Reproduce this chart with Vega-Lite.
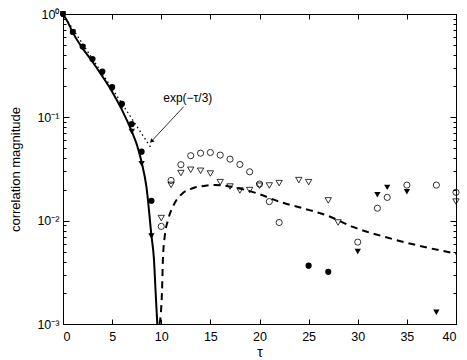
{
  "$schema": "https://vega.github.io/schema/vega-lite/v6.json",
  "width": 393,
  "height": 310,
  "autosize": {"type": "none"},
  "padding": {"left": 63, "top": 14, "right": 11, "bottom": 36},
  "background": "white",
  "config": {
    "font": "Liberation Sans",
    "view": {"stroke": "black", "strokeWidth": 1},
    "axis": {
      "grid": false,
      "domainColor": "black",
      "tickColor": "black",
      "labelColor": "black",
      "titleColor": "black",
      "labelFont": "Liberation Sans",
      "titleFont": "Liberation Sans",
      "labelFontSize": 12.5,
      "titleFontSize": 13,
      "titleFontWeight": "normal"
    }
  },
  "datasets": {
    "markers": [
      {"tau": 0, "value": 1, "series": "fc"},
      {"tau": 1, "value": 0.67, "series": "fc"},
      {"tau": 2, "value": 0.485, "series": "fc"},
      {"tau": 3, "value": 0.367, "series": "fc"},
      {"tau": 4, "value": 0.277, "series": "fc"},
      {"tau": 5, "value": 0.196, "series": "fc"},
      {"tau": 6, "value": 0.135, "series": "fc"},
      {"tau": 7, "value": 0.086, "series": "fc"},
      {"tau": 8, "value": 0.0465, "series": "fc"},
      {"tau": 9, "value": 0.0156, "series": "fc"},
      {"tau": 25, "value": 0.00367, "series": "fc"},
      {"tau": 27, "value": 0.0032, "series": "fc"},
      {"tau": 0, "value": 1, "series": "ft"},
      {"tau": 1, "value": 0.665, "series": "ft"},
      {"tau": 2, "value": 0.475, "series": "ft"},
      {"tau": 3, "value": 0.355, "series": "ft"},
      {"tau": 4, "value": 0.265, "series": "ft"},
      {"tau": 5, "value": 0.19, "series": "ft"},
      {"tau": 6, "value": 0.128, "series": "ft"},
      {"tau": 7, "value": 0.073, "series": "ft"},
      {"tau": 8, "value": 0.0356, "series": "ft"},
      {"tau": 9, "value": 0.0071, "series": "ft"},
      {"tau": 30, "value": 0.00503, "series": "ft"},
      {"tau": 32, "value": 0.0178, "series": "ft"},
      {"tau": 33, "value": 0.021, "series": "ft"},
      {"tau": 35, "value": 0.019, "series": "ft"},
      {"tau": 38, "value": 0.0013, "series": "ft"},
      {"tau": 10, "value": 0.0088, "series": "oc"},
      {"tau": 11, "value": 0.0245, "series": "oc"},
      {"tau": 12, "value": 0.0348, "series": "oc"},
      {"tau": 13, "value": 0.0425, "series": "oc"},
      {"tau": 14, "value": 0.045, "series": "oc"},
      {"tau": 15, "value": 0.0457, "series": "oc"},
      {"tau": 16, "value": 0.0431, "series": "oc"},
      {"tau": 17, "value": 0.0394, "series": "oc"},
      {"tau": 18, "value": 0.035, "series": "oc"},
      {"tau": 19, "value": 0.0297, "series": "oc"},
      {"tau": 20, "value": 0.0226, "series": "oc"},
      {"tau": 21, "value": 0.0153, "series": "oc"},
      {"tau": 22, "value": 0.0096, "series": "oc"},
      {"tau": 30, "value": 0.0062, "series": "oc"},
      {"tau": 32, "value": 0.0132, "series": "oc"},
      {"tau": 33, "value": 0.0168, "series": "oc"},
      {"tau": 35, "value": 0.0221, "series": "oc"},
      {"tau": 38, "value": 0.0221, "series": "oc"},
      {"tau": 40, "value": 0.0188, "series": "oc"},
      {"tau": 10, "value": 0.0106, "series": "ot"},
      {"tau": 11, "value": 0.0222, "series": "ot"},
      {"tau": 12, "value": 0.0289, "series": "ot"},
      {"tau": 13, "value": 0.0311, "series": "ot"},
      {"tau": 14, "value": 0.0304, "series": "ot"},
      {"tau": 15, "value": 0.0286, "series": "ot"},
      {"tau": 16, "value": 0.0236, "series": "ot"},
      {"tau": 17, "value": 0.0214, "series": "ot"},
      {"tau": 18, "value": 0.0196, "series": "ot"},
      {"tau": 19, "value": 0.0198, "series": "ot"},
      {"tau": 20, "value": 0.0218, "series": "ot"},
      {"tau": 21, "value": 0.0219, "series": "ot"},
      {"tau": 22, "value": 0.0231, "series": "ot"},
      {"tau": 24, "value": 0.0247, "series": "ot"},
      {"tau": 25, "value": 0.0236, "series": "ot"},
      {"tau": 27, "value": 0.0157, "series": "ot"},
      {"tau": 28, "value": 0.0096, "series": "ot"},
      {"tau": 40, "value": 0.0153, "series": "ot"}
    ],
    "curves": [
      {"tau": 0, "value": 1, "curve": "solid"},
      {"tau": 0.5, "value": 0.83, "curve": "solid"},
      {"tau": 1, "value": 0.66, "curve": "solid"},
      {"tau": 2, "value": 0.465, "curve": "solid"},
      {"tau": 3, "value": 0.345, "curve": "solid"},
      {"tau": 4, "value": 0.25, "curve": "solid"},
      {"tau": 5, "value": 0.177, "curve": "solid"},
      {"tau": 6, "value": 0.118, "curve": "solid"},
      {"tau": 7, "value": 0.073, "curve": "solid"},
      {"tau": 7.5, "value": 0.055, "curve": "solid"},
      {"tau": 8, "value": 0.037, "curve": "solid"},
      {"tau": 8.5, "value": 0.021, "curve": "solid"},
      {"tau": 9, "value": 0.0072, "curve": "solid"},
      {"tau": 9.26, "value": 0.0042, "curve": "solid"},
      {"tau": 9.43, "value": 0.002, "curve": "solid"},
      {"tau": 9.6, "value": 0.001, "curve": "solid"},
      {"tau": 9.83, "value": 0.001, "curve": "dashed"},
      {"tau": 10.07, "value": 0.002, "curve": "dashed"},
      {"tau": 10.17, "value": 0.0042, "curve": "dashed"},
      {"tau": 10.35, "value": 0.007, "curve": "dashed"},
      {"tau": 10.7, "value": 0.0102, "curve": "dashed"},
      {"tau": 11.37, "value": 0.0148, "curve": "dashed"},
      {"tau": 12.2, "value": 0.0185, "curve": "dashed"},
      {"tau": 13.2, "value": 0.0206, "curve": "dashed"},
      {"tau": 14.5, "value": 0.0218, "curve": "dashed"},
      {"tau": 15.5, "value": 0.0222, "curve": "dashed"},
      {"tau": 17.3, "value": 0.0211, "curve": "dashed"},
      {"tau": 19.67, "value": 0.0185, "curve": "dashed"},
      {"tau": 22, "value": 0.0153, "curve": "dashed"},
      {"tau": 24.4, "value": 0.0132, "curve": "dashed"},
      {"tau": 27, "value": 0.0111, "curve": "dashed"},
      {"tau": 29.5, "value": 0.0087, "curve": "dashed"},
      {"tau": 32.9, "value": 0.0069, "curve": "dashed"},
      {"tau": 36.3, "value": 0.0057, "curve": "dashed"},
      {"tau": 40, "value": 0.0048, "curve": "dashed"},
      {"tau": 0, "value": 1, "curve": "dotted"},
      {"tau": 9, "value": 0.05, "curve": "dotted"}
    ],
    "note": [
      {"tau": 10.2, "value": 0.155, "label": "exp(−τ/3)", "tau2": 9.05, "value2": 0.0593, "tau1": 12.28, "value1": 0.1267}
    ]
  },
  "layer": [
    {
      "data": {"name": "curves"},
      "transform": [{"filter": "datum.curve == 'dotted'"}],
      "mark": {"type": "line", "color": "black", "strokeWidth": 1.3, "strokeDash": [1.5, 3]},
      "encoding": {
        "x": {"field": "tau", "type": "quantitative", "scale": {"domain": [0, 40], "nice": false},
          "axis": {"orient": "bottom", "title": "τ", "titleFontSize": 14, "values": [0, 5, 10, 15, 20, 25, 30, 35, 40], "tickSize": -5, "labelPadding": 11, "titlePadding": 3}},
        "y": {"field": "value", "type": "quantitative", "scale": {"type": "log", "domain": [0.001, 1], "nice": false},
          "axis": {"orient": "left", "title": "correlation magnitude", "titlePadding": 14,
            "values": [0.001, 0.002, 0.003, 0.004, 0.005, 0.006, 0.007, 0.008, 0.009, 0.01, 0.02, 0.03, 0.04, 0.05, 0.06, 0.07, 0.08, 0.09, 0.1, 0.2, 0.3, 0.4, 0.5, 0.6, 0.7, 0.8, 0.9, 1],
            "labelExpr": "abs(log(datum.value)/LN10 - round(log(datum.value)/LN10)) < 0.000001 ? ('10' + (round(log(datum.value)/LN10) == 0 ? '⁰' : round(log(datum.value)/LN10) == -1 ? '⁻¹' : round(log(datum.value)/LN10) == -2 ? '⁻²' : '⁻³')) : ''",
            "tickSize": {"condition": {"test": "abs(log(datum.value)/LN10 - round(log(datum.value)/LN10)) < 0.000001", "value": -6}, "value": -3},
            "labelPadding": 10}}
      }
    },
    {
      "data": {"name": "curves"},
      "transform": [{"filter": "datum.curve == 'dotted'"}],
      "mark": {"type": "line", "opacity": 0},
      "encoding": {
        "x": {"field": "tau", "type": "quantitative", "scale": {"domain": [0, 40], "nice": false},
          "axis": {"orient": "top", "title": null, "labels": false, "values": [0, 5, 10, 15, 20, 25, 30, 35, 40], "tickSize": -5}},
        "y": {"field": "value", "type": "quantitative", "scale": {"type": "log", "domain": [0.001, 1], "nice": false},
          "axis": {"orient": "right", "title": null, "labels": false,
            "values": [0.001, 0.002, 0.003, 0.004, 0.005, 0.006, 0.007, 0.008, 0.009, 0.01, 0.02, 0.03, 0.04, 0.05, 0.06, 0.07, 0.08, 0.09, 0.1, 0.2, 0.3, 0.4, 0.5, 0.6, 0.7, 0.8, 0.9, 1],
            "tickSize": {"condition": {"test": "abs(log(datum.value)/LN10 - round(log(datum.value)/LN10)) < 0.000001", "value": -6}, "value": -3}}}
      }
    },
    {
      "data": {"name": "curves"},
      "transform": [{"filter": "datum.curve == 'solid'"}],
      "mark": {"type": "line", "color": "black", "strokeWidth": 2, "interpolate": "monotone", "clip": true},
      "encoding": {
        "x": {"field": "tau", "type": "quantitative", "scale": {"domain": [0, 40], "nice": false}, "axis": null},
        "y": {"field": "value", "type": "quantitative", "scale": {"type": "log", "domain": [0.001, 1], "nice": false}, "axis": null}
      }
    },
    {
      "data": {"name": "curves"},
      "transform": [{"filter": "datum.curve == 'dashed'"}],
      "mark": {"type": "line", "color": "black", "strokeWidth": 2, "strokeDash": [7, 5], "interpolate": "monotone", "clip": true},
      "encoding": {
        "x": {"field": "tau", "type": "quantitative", "scale": {"domain": [0, 40], "nice": false}, "axis": null},
        "y": {"field": "value", "type": "quantitative", "scale": {"type": "log", "domain": [0.001, 1], "nice": false}, "axis": null}
      }
    },
    {
      "data": {"name": "markers"},
      "transform": [{"filter": "datum.series == 'oc'"}],
      "mark": {"type": "point", "shape": "circle", "filled": false, "color": "black", "opacity": 1, "strokeWidth": 0.8, "size": 38},
      "encoding": {
        "x": {"field": "tau", "type": "quantitative", "scale": {"domain": [0, 40], "nice": false}, "axis": null},
        "y": {"field": "value", "type": "quantitative", "scale": {"type": "log", "domain": [0.001, 1], "nice": false}, "axis": null}
      }
    },
    {
      "data": {"name": "markers"},
      "transform": [{"filter": "datum.series == 'ot'"}],
      "mark": {"type": "point", "shape": "triangle-down", "filled": false, "color": "black", "opacity": 1, "strokeWidth": 0.8, "size": 40},
      "encoding": {
        "x": {"field": "tau", "type": "quantitative", "scale": {"domain": [0, 40], "nice": false}, "axis": null},
        "y": {"field": "value", "type": "quantitative", "scale": {"type": "log", "domain": [0.001, 1], "nice": false}, "axis": null}
      }
    },
    {
      "data": {"name": "markers"},
      "transform": [{"filter": "datum.series == 'ft'"}],
      "mark": {"type": "point", "shape": "triangle-down", "filled": true, "color": "black", "opacity": 1, "size": 40},
      "encoding": {
        "x": {"field": "tau", "type": "quantitative", "scale": {"domain": [0, 40], "nice": false}, "axis": null},
        "y": {"field": "value", "type": "quantitative", "scale": {"type": "log", "domain": [0.001, 1], "nice": false}, "axis": null}
      }
    },
    {
      "data": {"name": "markers"},
      "transform": [{"filter": "datum.series == 'fc'"}],
      "mark": {"type": "point", "shape": "circle", "filled": true, "color": "black", "opacity": 1, "size": 38},
      "encoding": {
        "x": {"field": "tau", "type": "quantitative", "scale": {"domain": [0, 40], "nice": false}, "axis": null},
        "y": {"field": "value", "type": "quantitative", "scale": {"type": "log", "domain": [0.001, 1], "nice": false}, "axis": null}
      }
    },
    {
      "data": {"name": "note"},
      "mark": {"type": "rule", "color": "black", "strokeWidth": 0.8},
      "encoding": {
        "x": {"field": "tau1", "type": "quantitative", "scale": {"domain": [0, 40], "nice": false}, "axis": null},
        "y": {"field": "value1", "type": "quantitative", "scale": {"type": "log", "domain": [0.001, 1], "nice": false}, "axis": null},
        "x2": {"field": "tau2"},
        "y2": {"field": "value2"}
      }
    },
    {
      "data": {"name": "note"},
      "mark": {"type": "point", "shape": "triangle", "filled": true, "color": "black", "opacity": 1, "size": 22, "angle": 223},
      "encoding": {
        "x": {"field": "tau2", "type": "quantitative", "scale": {"domain": [0, 40], "nice": false}, "axis": null},
        "y": {"field": "value2", "type": "quantitative", "scale": {"type": "log", "domain": [0.001, 1], "nice": false}, "axis": null}
      }
    },
    {
      "data": {"name": "note"},
      "mark": {"type": "text", "align": "left", "baseline": "middle", "fontSize": 12, "font": "Liberation Sans", "color": "black"},
      "encoding": {
        "x": {"field": "tau", "type": "quantitative", "scale": {"domain": [0, 40], "nice": false}, "axis": null},
        "y": {"field": "value", "type": "quantitative", "scale": {"type": "log", "domain": [0.001, 1], "nice": false}, "axis": null},
        "text": {"field": "label"}
      }
    }
  ],
  "resolve": {"axis": {"x": "independent", "y": "independent"}}
}
